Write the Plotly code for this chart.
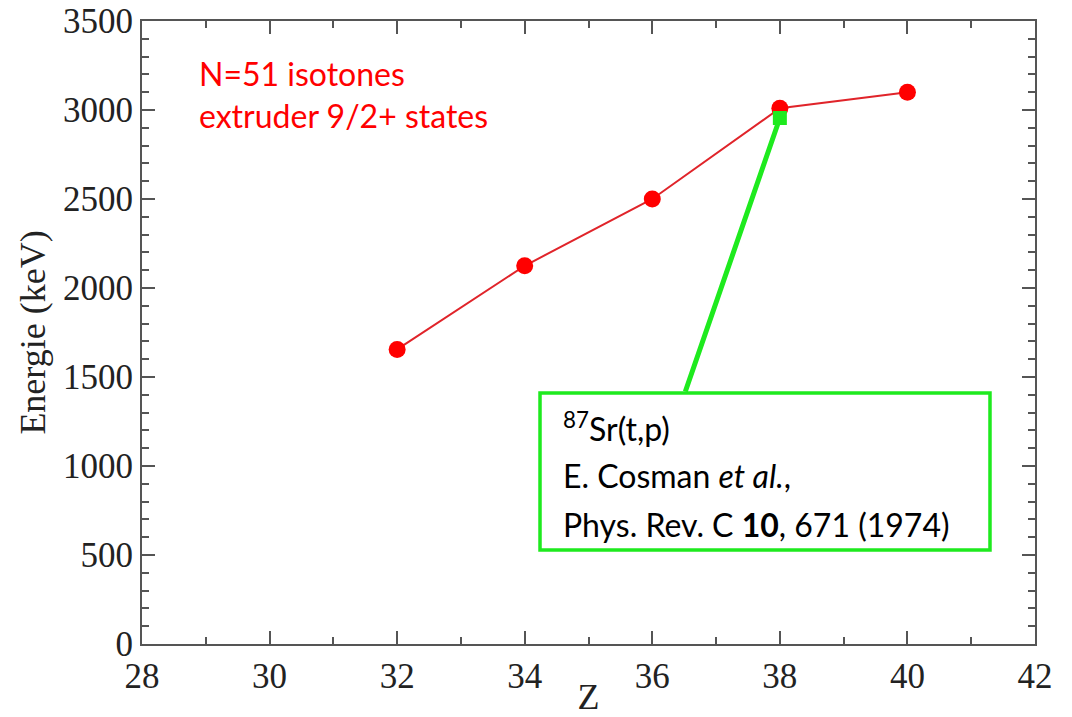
import plotly.graph_objects as go

# N=51 isotones: energy of the extruder 9/2+ states versus proton number Z
z_values = [32, 34, 36, 38, 40]
energy_kev = [1655, 2125, 2500, 3010, 3100]

# 87Sr(t,p) measurement at Z=38
z_tp = [38]
energy_tp = [2955]

x_ticks = [28, 30, 32, 34, 36, 38, 40, 42]
y_ticks = [0, 500, 1000, 1500, 2000, 2500, 3000, 3500]

note_lines = [
    "<sup>87</sup>Sr(t,p)",
    "E. Cosman <i>et al.</i>,",
    "Phys. Rev. C <b>10</b>, 671 (1974)",
]
title_lines = ["N=51 isotones", "extruder 9/2+ states"]

RED = "#ff0000"
GREEN = "#1eea1e"
AXIS = "#555555"
TEXT_FONT = "Lato"
SERIF = "Liberation Serif"

fig = go.Figure()

fig.add_trace(go.Scatter(
    x=z_values, y=energy_kev, mode="lines+markers",
    line=dict(color="#e0242a", width=2),
    marker=dict(color=RED, size=17, line=dict(width=0)),
    showlegend=False,
))
fig.add_trace(go.Scatter(
    x=z_tp, y=energy_tp, mode="markers",
    marker=dict(color=GREEN, size=14, symbol="square", line=dict(width=0)),
    showlegend=False,
))

# connector from the (t,p) point down to the reference box
box_x0, box_x1, box_y0, box_y1 = 0.4457, 0.9496, 0.151, 0.403
fig.add_annotation(
    x=z_tp[0], y=energy_tp[0], xref="x", yref="y",
    ax=36.51, ay=1410, axref="x", ayref="y",
    text="", showarrow=True, arrowhead=0, arrowwidth=5, arrowcolor=GREEN,
    standoff=0, startstandoff=0,
)
fig.add_shape(
    type="rect", xref="paper", yref="paper",
    x0=box_x0, x1=box_x1, y0=box_y0, y1=box_y1,
    line=dict(color=GREEN, width=3.5), fillcolor="white", layer="above",
)
for i, line in enumerate(note_lines):
    fig.add_annotation(
        x=box_x0 + 0.024, y=box_y1 - 0.055 - i * 0.078,
        xref="paper", yref="paper", xanchor="left", yanchor="middle",
        text=line, showarrow=False,
        font=dict(family=TEXT_FONT, size=32, color="black"),
    )

for i, line in enumerate(title_lines):
    fig.add_annotation(
        x=0.062, y=0.915 - i * 0.066,
        xref="paper", yref="paper", xanchor="left", yanchor="middle",
        text=line, showarrow=False,
        font=dict(family=TEXT_FONT, size=32, color=RED),
    )

axis_common = dict(
    showline=True, linecolor=AXIS, linewidth=2, mirror="allticks",
    ticks="inside", ticklen=13, tickwidth=2, tickcolor=AXIS,
    showgrid=False, zeroline=False, automargin=False,
    tickfont=dict(family=SERIF, size=35, color="#222222"),
)

fig.update_xaxes(
    range=[28, 42], tickvals=x_ticks, ticktext=[str(v) for v in x_ticks],
    minor=dict(dtick=1, ticks="inside", ticklen=7, tickwidth=2, tickcolor=AXIS),
    title=dict(text="Z", font=dict(family=SERIF, size=36, color="#222222"),
               standoff=0),
    **axis_common,
)
fig.update_yaxes(
    range=[0, 3500], tickvals=y_ticks, ticktext=[str(v) for v in y_ticks],
    minor=dict(dtick=100, ticks="inside", ticklen=7, tickwidth=2, tickcolor=AXIS),
    title=dict(text="Energie (keV)", font=dict(family=SERIF, size=36, color="#222222"),
               standoff=6),
    **axis_common,
)

fig.update_layout(
    width=1072, height=717,
    margin=dict(l=142, r=37, t=21, b=73),
    plot_bgcolor="white", paper_bgcolor="white",
)

fig.write_html("out.html")
